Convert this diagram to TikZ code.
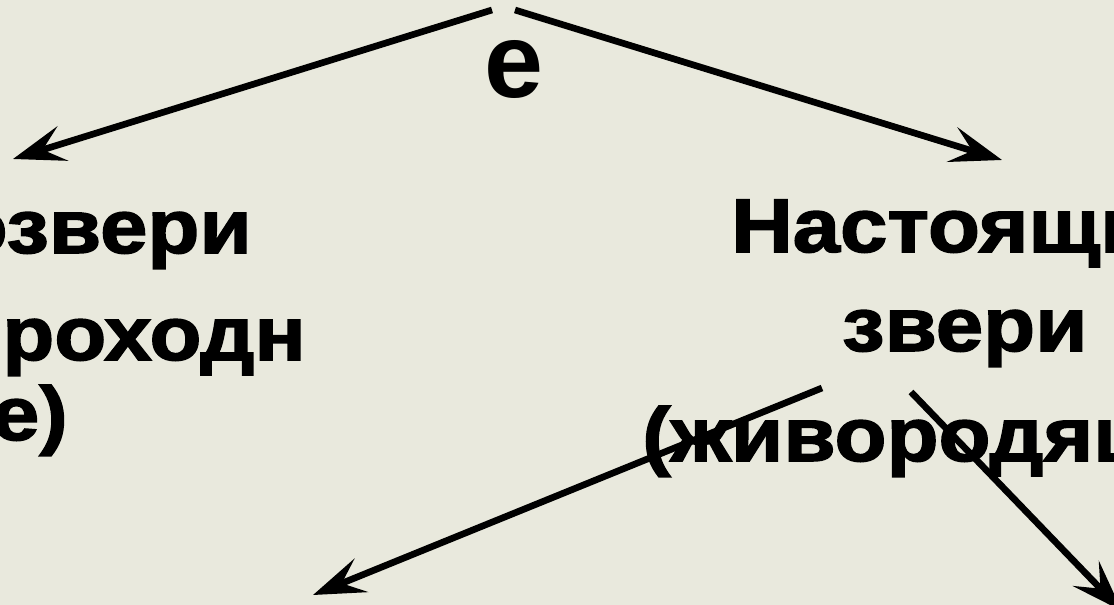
\documentclass[tikz,border=0pt]{standalone}
\usepackage{fontspec}
\setmainfont{Liberation Sans}
\newfontfamily\leaffont{Liberation Sans Bold}[FakeStretch=1.12,FakeBold=2]
\usetikzlibrary{arrows.meta}
\definecolor{slidebg}{RGB}{233,233,221}
\tikzset{
  branch/.style={line width=5pt,-{Stealth[length=39pt,width=27pt,inset=15.75pt]}},
  leaf/.style={inner sep=0pt,font=\leaffont\fontsize{57pt}{60pt}\selectfont}
}
\begin{document}
\begin{tikzpicture}[x=0.75pt,y=-0.75pt]
\fill[slidebg] (0,0) rectangle (1114,605);
\useasboundingbox (0,0) rectangle (1114,605);
\clip (0,0) rectangle (1114,605);
\node[anchor=base,inner sep=0pt,font=\bfseries\fontsize{79.5pt}{90pt}\selectfont] (title) at (514,98) {е};
\node[leaf,anchor=base east] (proto1) at (252,253) {озвери};
\node[leaf,anchor=base east] (proto2) at (306,360) {роходн};
\node[leaf,anchor=base east] (proto3) at (68,440) {е)};
\node[leaf,anchor=base west] (theria1) at (731,252) {Настоящи};
\node[leaf,anchor=base west] (theria2) at (842,351) {звери};
\node[leaf,anchor=base west] (theria3) at (642,461) {(живородящ};
\coordinate (titleL) at (492,10);
\coordinate (titleR) at (515,10);
\coordinate (protoTip) at (13,159);
\coordinate (theriaTip) at (1002,160);
\coordinate (theriaL) at (822,388);
\coordinate (theriaR) at (911,392);
\coordinate (metaTip) at (313,595);
\coordinate (euTip) at (1122,611);
\draw[branch] (titleL) -- (protoTip);
\draw[branch] (titleR) -- (theriaTip);
\draw[branch] (theriaL) -- (metaTip);
\draw[branch] (theriaR) -- (euTip);
\end{tikzpicture}
\end{document}
